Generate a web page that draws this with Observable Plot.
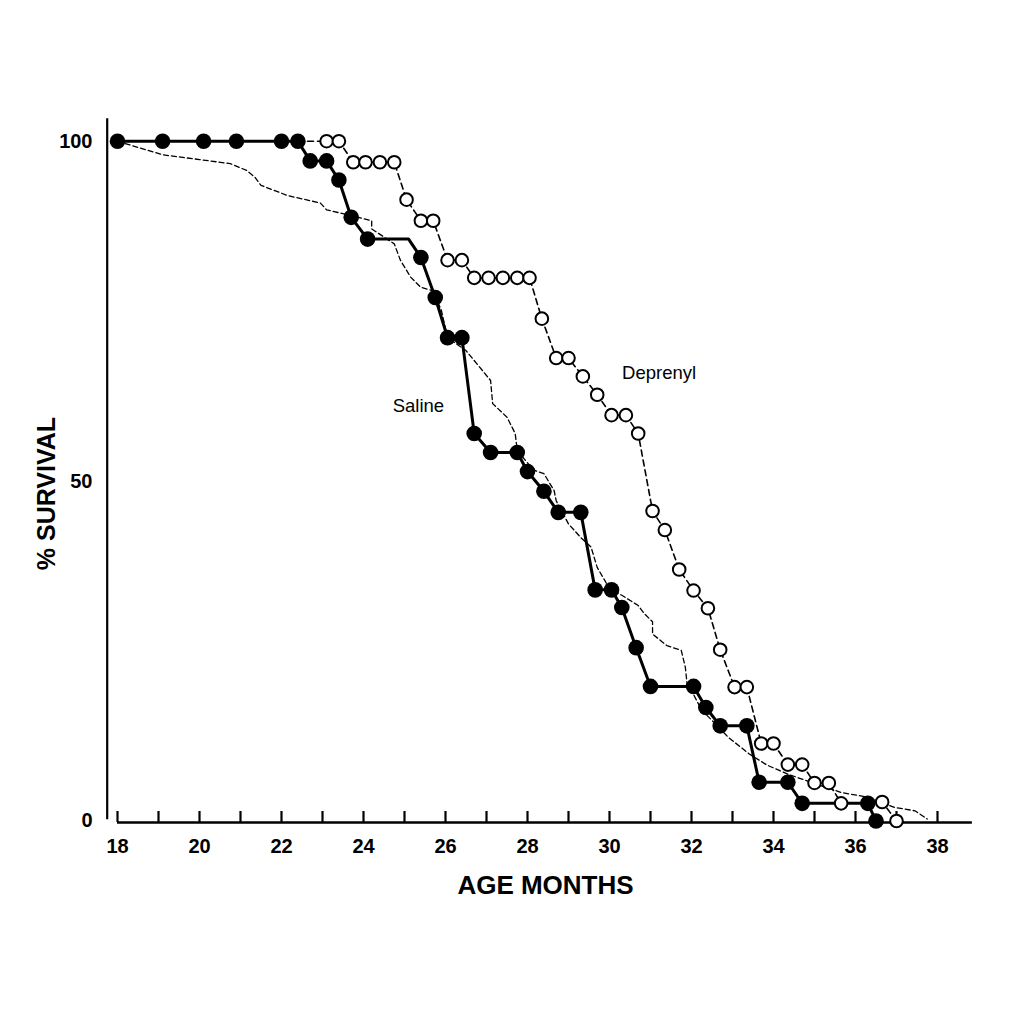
<!DOCTYPE html>
<html>
<head>
<meta charset="utf-8">
<script src="https://cdn.jsdelivr.net/npm/d3@7"></script>
<script src="https://cdn.jsdelivr.net/npm/@observablehq/plot@0.6"></script>
<style>
  html, body { margin: 0; padding: 0; background: #fff; }
  svg { display: block; }
</style>
</head>
<body>
<div id="chart"></div>
<script>
// ---- Data ----
// Saline group (filled circles, solid line); marker flag 0 = line corner only
const salineAge = [18.0, 19.1, 20.1, 20.9, 22.0, 22.4, 22.7, 23.1, 23.4, 23.7, 24.1, 25.1, 25.4, 25.75, 26.05, 26.4, 26.7, 27.1, 27.75, 28.0, 28.4, 28.75, 29.3, 29.65, 30.05, 30.3, 30.65, 31.0, 32.05, 32.35, 32.7, 33.35, 33.65, 34.35, 34.7, 36.3, 36.5];
const salineSurv = [100, 100, 100, 100, 100, 100, 97.1, 97.1, 94.3, 88.8, 85.6, 85.6, 82.9, 77.0, 71.1, 71.1, 57.0, 54.2, 54.2, 51.4, 48.5, 45.4, 45.4, 34.0, 34.0, 31.4, 25.5, 19.8, 19.8, 16.7, 14.0, 14.0, 5.7, 5.7, 2.6, 2.6, 0];
const salineMarked = [1,1,1,1,1,1,1,1,1,1,1,0,1,1,1,1,1,1,1,1,1,1,1,1,1,1,1,1,1,1,1,1,1,1,1,1,1];

// Deprenyl group (open circles, dashed line)
const deprenylAge = [18.0, 23.1, 23.4, 23.75, 24.05, 24.4, 24.75, 25.05, 25.4, 25.7, 26.05, 26.4, 26.7, 27.05, 27.4, 27.75, 28.05, 28.35, 28.7, 29.0, 29.35, 29.7, 30.05, 30.4, 30.7, 31.05, 31.35, 31.7, 32.05, 32.4, 32.7, 33.05, 33.35, 33.7, 34.0, 34.35, 34.7, 35.0, 35.35, 35.65, 36.65, 37.0];
const deprenylSurv = [100, 100, 100, 96.9, 96.9, 96.9, 96.9, 91.4, 88.3, 88.3, 82.5, 82.5, 79.9, 79.9, 79.9, 79.9, 79.9, 73.9, 68.1, 68.1, 65.4, 62.7, 59.7, 59.7, 57.0, 45.6, 42.8, 37.0, 33.9, 31.3, 25.2, 19.7, 19.7, 11.4, 11.4, 8.3, 8.3, 5.6, 5.6, 2.6, 2.8, 0];
const deprenylMarked = [0,1,1,1,1,1,1,1,1,1,1,1,1,1,1,1,1,1,1,1,1,1,1,1,1,1,1,1,1,1,1,1,1,1,1,1,1,1,1,1,1,1];

// Reference survival curve (thin dashed, no markers)
const refAge = [18.0, 19.1, 20.0, 20.75, 21.15, 21.35, 21.5, 22.15, 22.95, 23.1, 23.6, 24.2, 24.2, 24.75, 24.9, 25.15, 25.4, 25.7, 25.9, 26.05, 26.5, 27.1, 27.15, 27.5, 27.7, 27.75, 28.15, 28.4, 28.65, 28.7, 29.0, 29.3, 29.55, 29.7, 30.0, 30.3, 30.7, 30.85, 31.05, 31.05, 31.4, 31.75, 31.85, 31.9, 32.05, 32.25, 32.5, 32.9, 33.4, 33.85, 34.35, 35.0, 35.65, 36.3, 36.95, 37.45, 37.75];
const refSurv = [100, 98.0, 97.3, 96.7, 95.7, 94.7, 93.5, 92.0, 90.9, 89.9, 89.2, 88.3, 87.1, 84.9, 82.5, 80.0, 78.5, 78.0, 75.1, 71.1, 69.2, 64.8, 61.4, 59.4, 57.0, 54.5, 51.6, 51.1, 48.6, 47.1, 43.7, 41.7, 40.3, 37.3, 34.2, 33.2, 31.7, 30.5, 29.3, 27.5, 25.8, 25.1, 22.6, 19.7, 18.6, 16.3, 14.8, 12.3, 9.9, 8.2, 6.9, 5.5, 4.2, 3.5, 2.0, 1.5, 0.3];

// Axis ticks and labels
const monthTicks = d3.range(18, 39, 1);
const monthLabels = d3.range(18, 39, 2);
const survivalLabels = [0, 50, 100];
const xTitle = "AGE MONTHS";
const yTitle = "% SURVIVAL";
const seriesLabels = [
  {text: "Saline", age: 25.34, surv: 61.0},
  {text: "Deprenyl", age: 31.21, surv: 65.9}
];

// ---- Build tables ----
const saline = salineAge.map((a, i) => ({age: a, surv: salineSurv[i], marked: salineMarked[i]}));
const deprenyl = deprenylAge.map((a, i) => ({age: a, surv: deprenylSurv[i], marked: deprenylMarked[i]}));
const reference = refAge.map((a, i) => ({age: a, surv: refSurv[i]}));

const chart = Plot.plot({
  width: 1024,
  height: 1024,
  marginLeft: 117,
  marginRight: 87,
  marginTop: 140.7,
  marginBottom: 203.5,
  style: {fontFamily: "'Liberation Sans', Arial, Helvetica, sans-serif", color: "#000", background: "#fff"},
  x: {domain: [18, 38]},
  y: {domain: [0, 100]},
  marks: [
    // axis frame
    Plot.ruleX([18], {y1: 0.2, y2: 103.3, dx: -10.3, stroke: "#000", strokeWidth: 2.2}),
    Plot.ruleY([0], {x1: 18, x2: 38.85, dy: 1.5, stroke: "#000", strokeWidth: 2.5}),
    Plot.ruleX(monthTicks, {x: d => d, y1: 0, y2: 1.62, dy: 1.5, stroke: "#000", strokeWidth: 2.2}),
    Plot.axisX({ticks: monthLabels, tickSize: 0, tickPadding: 18, fontSize: 20, fontWeight: "bold", label: null}),
    Plot.axisY({ticks: survivalLabels, tickSize: 0, tickPadding: 25, fontSize: 20, fontWeight: "bold", label: null}),
    Plot.text([xTitle], {frameAnchor: "bottom", dx: 18, dy: 72.5, lineAnchor: "bottom", fontSize: 26, fontWeight: "bold", text: d => d}),
    Plot.text([yTitle], {frameAnchor: "left", textAnchor: "middle", rotate: -90, dx: -71, dy: 12.4, fontSize: 25, fontWeight: "bold", text: d => d}),
    // reference curve
    Plot.line(reference, {x: "age", y: "surv", stroke: "#000", strokeWidth: 1.3, strokeDasharray: "5,3", curve: "linear"}),
    // saline
    Plot.line(saline, {x: "age", y: "surv", stroke: "#000", strokeWidth: 3}),
    Plot.dot(saline.filter(d => d.marked), {x: "age", y: "surv", r: 7.8, fill: "#000", stroke: "none"}),
    // deprenyl
    Plot.line(deprenyl, {x: "age", y: "surv", stroke: "#000", strokeWidth: 1.6, strokeDasharray: "6,4"}),
    Plot.dot(deprenyl.filter(d => d.marked), {x: "age", y: "surv", r: 6.3, fill: "#fff", stroke: "#000", strokeWidth: 2}),
    // series labels
    Plot.text(seriesLabels, {x: "age", y: "surv", text: "text", fontSize: 18.5, fill: "#000"})
  ]
});
document.getElementById("chart").appendChild(chart);
</script>
</body>
</html>
